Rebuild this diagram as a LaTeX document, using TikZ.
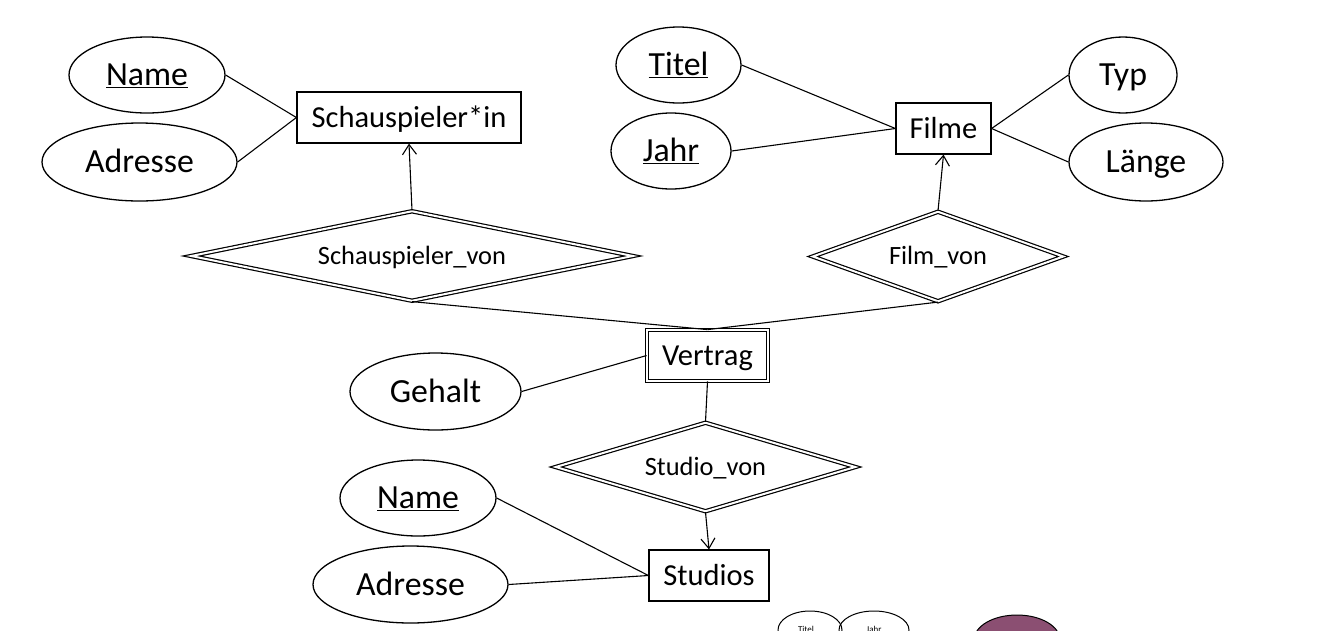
\documentclass[tikz,border=0pt]{standalone}
\usepackage{fontspec}
\setmainfont{Carlito}
\usetikzlibrary{shapes.geometric,arrows.meta}
\definecolor{mauve}{RGB}{139,79,114}
\begin{document}
\begin{tikzpicture}[x=1pt,y=-1pt, line width=1.2pt,
  attr/.style={draw, ellipse, inner sep=0pt, line width=1.3pt, text height=25.3pt, text depth=3.7pt, font=\fontsize{33.8}{37}\selectfont},
  ent/.style={draw, rectangle, inner sep=0pt, minimum height=51pt, text height=22.9pt, text depth=3.3pt, font=\fontsize{30.5}{33}\selectfont},
  wrel/.style={draw, diamond, double, double distance=2pt, inner sep=0pt, text height=19.8pt, text depth=2.9pt, font=\fontsize{26.4}{29}\selectfont},
  wrect/.style={draw, rectangle, double, double distance=2pt, inner sep=0pt, text height=22.9pt, text depth=3.3pt, font=\fontsize{30.5}{33}\selectfont},
  link/.style={line width=1.1pt},
  arr/.style={link, -{Straight Barb[length=10pt,width=14pt,line width=1.1pt]}},
  mini/.style={font=\fontsize{9}{10}\selectfont, inner sep=0pt},
]
\useasboundingbox (0,0) rectangle (1331,630);
\clip (0,0) rectangle (1331,630);

% Schauspieler*in
\node[attr, minimum width=156pt, minimum height=76pt] (sname) at (147,75) {\underline{Name}};
\node[attr, minimum width=195pt, minimum height=78pt] (sadr) at (139.5,162) {Adresse};
\node[ent, minimum width=224pt] (sch) at (409,117.5) {Schauspieler*in};

% Filme
\node[attr, minimum width=125pt, minimum height=76pt] (titel) at (678.5,65) {\underline{Titel}};
\node[attr, minimum width=120pt, minimum height=76pt] (jahr) at (671,151) {\underline{Jahr}};
\node[ent, minimum width=95pt] (filme) at (943.5,128.5) {Filme};
\node[attr, minimum width=108pt, minimum height=76pt] (typ) at (1123,75) {Typ};
\node[attr, minimum width=154pt, minimum height=78pt] (laenge) at (1146,162) {Länge};

% relationships
\node[wrel, minimum width=442pt, minimum height=90pt, aspect=5] (sv) at (412,256) {Schauspieler\_von};
\node[wrel, minimum width=251pt, minimum height=90pt, aspect=2.8] (fv) at (938,256.5) {Film\_von};

% Vertrag
\node[wrect, minimum width=120.6pt, minimum height=50.6pt] (vertrag) at (707.5,355.5) {Vertrag};
\node[attr, minimum width=171pt, minimum height=77pt] (gehalt) at (435.5,391.5) {Gehalt};

\node[wrel, minimum width=300pt, minimum height=89pt, aspect=3.4] (stv) at (705.5,467) {Studio\_von};

% Studios
\node[attr, minimum width=156pt, minimum height=76pt] (bname) at (418,498) {\underline{Name}};
\node[attr, minimum width=195pt, minimum height=77pt] (badr) at (410.5,584.5) {Adresse};
\node[ent, minimum width=120pt] (studios) at (709,575.5) {Studios};

% connectors
\draw[link] (sname.east) -- (sch.west);
\draw[link] (sadr.east) -- (sch.west);
\draw[link] (titel.east) -- (filme.west);
\draw[link] (jahr.east) -- (filme.west);
\draw[link] (typ.west) -- (filme.east);
\draw[link] (laenge.west) -- (filme.east);
\draw[arr] (sv.north) -- (sch.south);
\draw[arr] (fv.north) -- (filme.south);
\draw[link] (sv.south) -- (vertrag.north);
\draw[link] (fv.south) -- (vertrag.north);
\draw[link] (gehalt.east) -- (vertrag.west);
\draw[link] (vertrag.south) -- (stv.north);
\draw[arr] (stv.south) -- (studios.north);
\draw[link] (bname.east) -- (studios.west);
\draw[link] (badr.east) -- (studios.west);

% partially visible shapes at the bottom edge
\node[draw, ellipse, line width=1pt, minimum width=64pt, minimum height=38pt, inner sep=0pt] (m1) at (810,630) {};
\node[draw, ellipse, line width=1pt, minimum width=70pt, minimum height=38pt, inner sep=0pt] (m2) at (874,630) {};
\node[mini] (m1t) at (806,629) {Titel};
\node[mini] (m2t) at (874,629) {Jahr};
\node[draw, ellipse, fill=mauve, line width=1pt, minimum width=86pt, minimum height=50pt, inner sep=0pt] (m3) at (1017,640) {};
\end{tikzpicture}
\end{document}
